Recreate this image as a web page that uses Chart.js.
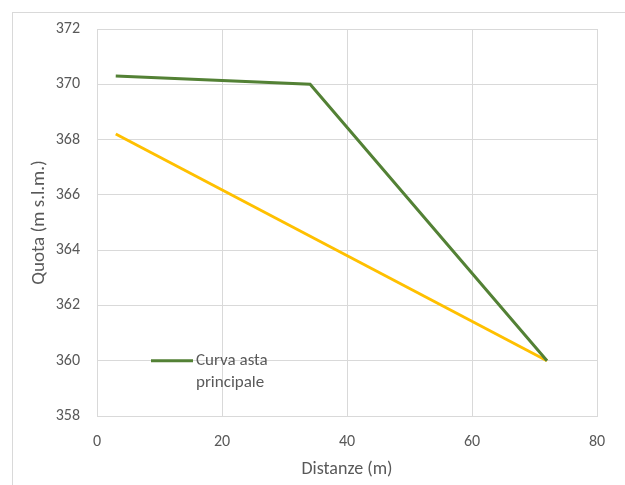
<!DOCTYPE html>
<html>
<head>
<meta charset="utf-8">
<script src="https://cdn.jsdelivr.net/npm/chart.js@4"></script>
<style>
html,body{margin:0;padding:0;background:#fff;overflow:hidden;}
#wrap{position:relative;width:625px;height:485px;}
#frame{position:absolute;left:12px;top:12px;width:640px;height:500px;border:1px solid #d9d9d9;box-sizing:border-box;pointer-events:none;}
canvas{position:absolute;left:0;top:0;}
</style>
</head>
<body>
<div id="wrap">
<canvas id="c" width="625" height="485"></canvas>
<div id="frame"></div>
</div>
<script>
const seriesNames = ["Curva asta principale", "Linea retta"];
const greenX = [3, 34.1, 72];
const greenY = [370.3, 370.0, 360.0];
const yellowX = [3, 72];
const yellowY = [368.2, 360.0];
const xTicks = [0, 20, 40, 60, 80];
const yTicks = [358, 360, 362, 364, 366, 368, 370, 372];
const xTitle = "Distanze (m)";
const yTitle = "Quota (m s.l.m.)";

const FONT = "Carlito, Lato, 'Liberation Sans', sans-serif";
const TXT = "#595959";

const pts = (xs, ys) => xs.map((x, i) => ({x: x, y: ys[i]}));

const legendPlugin = {
  id: 'inlineLegend',
  afterDraw(chart) {
    const ctx = chart.ctx;
    const ca = chart.chartArea;
    const ds = chart.data.datasets[0];
    const ly = chart.scales.y.getPixelForValue(360);
    const x0 = ca.left + 54, x1 = ca.left + 96;
    ctx.save();
    ctx.strokeStyle = ds.borderColor;
    ctx.lineWidth = 3;
    ctx.beginPath();
    ctx.moveTo(x0, ly);
    ctx.lineTo(x1, ly);
    ctx.stroke();
    ctx.fillStyle = TXT;
    ctx.font = "17px " + FONT;
    ctx.textBaseline = "middle";
    const words = ds.label.split(" ");
    const l1 = words.slice(0, 2).join(" ");
    const l2 = words.slice(2).join(" ");
    ctx.fillText(l1, x1 + 3, ly);
    ctx.fillText(l2, x1 + 3, ly + 22);
    ctx.restore();
  }
};

new Chart(document.getElementById('c'), {
  type: 'line',
  data: {
    datasets: [
      {label: seriesNames[0], data: pts(greenX, greenY), borderColor: '#538135', borderWidth: 3, pointRadius: 0, fill: false, tension: 0},
      {label: seriesNames[1], data: pts(yellowX, yellowY), borderColor: '#FFC000', borderWidth: 3, pointRadius: 0, fill: false, tension: 0}
    ]
  },
  options: {
    responsive: false,
    animation: false,
    layout: {padding: {left: 0, right: 28, top: 29, bottom: 0}},
    plugins: {legend: {display: false}, tooltip: {enabled: false}},
    scales: {
      x: {
        type: 'linear', min: 0, max: 80,
        afterBuildTicks: s => { s.ticks = xTicks.map(v => ({value: v})); },
        afterFit: s => { s.height = 69; },
        grid: {color: '#d9d9d9', drawTicks: false, lineWidth: 1},
        border: {color: '#d9d9d9'},
        ticks: {color: TXT, font: {family: FONT, size: 16}, padding: 16},
        title: {display: true, text: xTitle, color: TXT, font: {family: FONT, size: 18}, padding: {top: 6, bottom: 5}}
      },
      y: {
        type: 'linear', min: 358, max: 372,
        afterBuildTicks: s => { s.ticks = yTicks.map(v => ({value: v})); },
        afterFit: s => { s.width = 97; },
        grid: {color: '#d9d9d9', drawTicks: false, lineWidth: 1},
        border: {color: '#d9d9d9'},
        ticks: {color: TXT, font: {family: FONT, size: 16}, padding: 17},
        title: {display: true, text: yTitle, color: TXT, font: {family: FONT, size: 19}, padding: {top: 28, bottom: 0}}
      }
    }
  },
  plugins: [legendPlugin]
});
</script>
</body>
</html>
